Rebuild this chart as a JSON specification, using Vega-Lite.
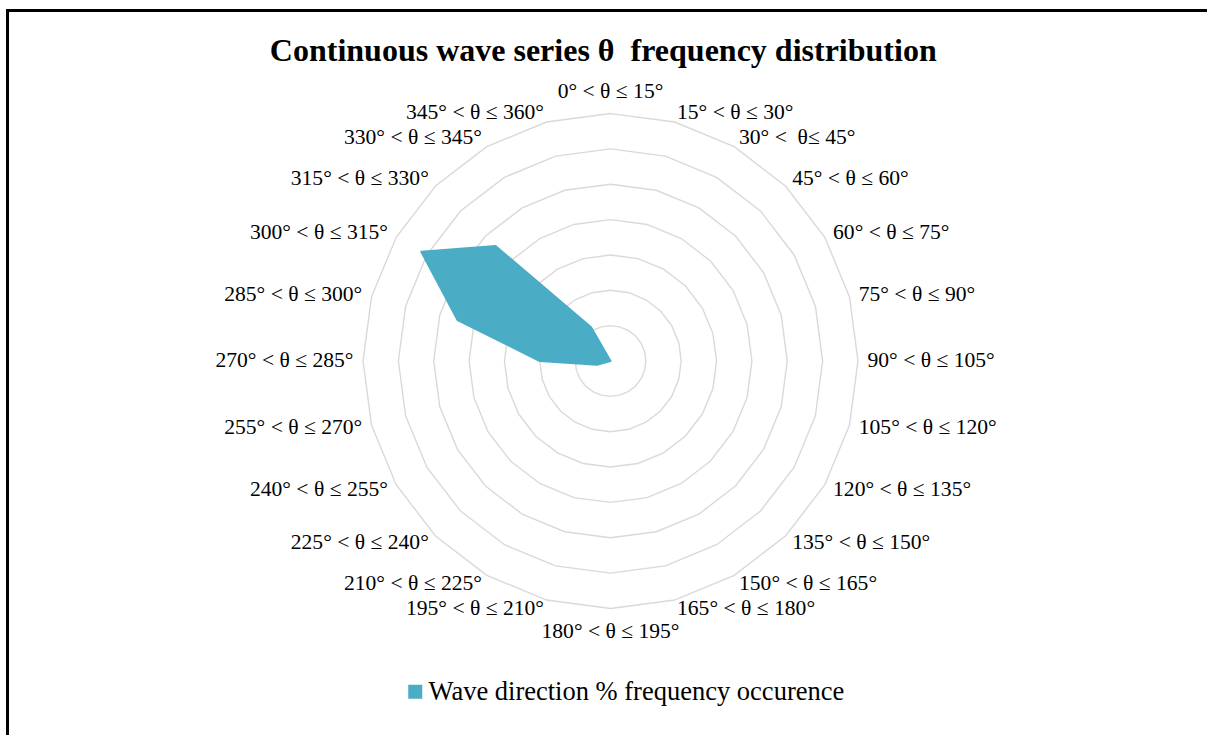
{
  "$schema": "https://vega.github.io/schema/vega-lite/v6.json",
  "width": 1199.5,
  "height": 724.5,
  "autosize": "none",
  "padding": {"left": 7.5, "top": 10.5, "right": 0, "bottom": 0},
  "background": "white",
  "config": {
    "view": {"stroke": null},
    "font": "Liberation Serif"
  },
  "title": {
    "text": "Continuous wave series θ \u00a0frequency distribution",
    "font": "Liberation Serif",
    "fontSize": 32,
    "fontWeight": "bold",
    "color": "black",
    "anchor": "middle",
    "dx": -4,
    "dy": 64
  },
  "datasets": {
    "directions": [
      {"bin": "0° < θ ≤ 15°", "angle": 0, "pct": 0},
      {"bin": "15° < θ ≤ 30°", "angle": 15, "pct": 0},
      {"bin": "30° < \u00a0θ≤ 45°", "angle": 30, "pct": 0},
      {"bin": "45° < θ ≤ 60°", "angle": 45, "pct": 0},
      {"bin": "60° < θ ≤ 75°", "angle": 60, "pct": 0},
      {"bin": "75° < θ ≤ 90°", "angle": 75, "pct": 0},
      {"bin": "90° < θ ≤ 105°", "angle": 90, "pct": 0},
      {"bin": "105° < θ ≤ 120°", "angle": 105, "pct": 0},
      {"bin": "120° < θ ≤ 135°", "angle": 120, "pct": 0},
      {"bin": "135° < θ ≤ 150°", "angle": 135, "pct": 0},
      {"bin": "150° < θ ≤ 165°", "angle": 150, "pct": 0},
      {"bin": "165° < θ ≤ 180°", "angle": 165, "pct": 0},
      {"bin": "180° < θ ≤ 195°", "angle": 180, "pct": 0},
      {"bin": "195° < θ ≤ 210°", "angle": 195, "pct": 0},
      {"bin": "210° < θ ≤ 225°", "angle": 210, "pct": 0},
      {"bin": "225° < θ ≤ 240°", "angle": 225, "pct": 0},
      {"bin": "240° < θ ≤ 255°", "angle": 240, "pct": 0},
      {"bin": "255° < θ ≤ 270°", "angle": 255, "pct": 2.0},
      {"bin": "270° < θ ≤ 285°", "angle": 270, "pct": 10.0},
      {"bin": "285° < θ ≤ 300°", "angle": 285, "pct": 22.4},
      {"bin": "300° < θ ≤ 315°", "angle": 300, "pct": 30.9},
      {"bin": "315° < θ ≤ 330°", "angle": 315, "pct": 23.0},
      {"bin": "330° < θ ≤ 345°", "angle": 330, "pct": 5.5},
      {"bin": "345° < θ ≤ 360°", "angle": 345, "pct": 0}
    ],
    "rings": [
      {"level": 5, "angle": [0, 15, 30, 45, 60, 75, 90, 105, 120, 135, 150, 165, 180, 195, 210, 225, 240, 255, 270, 285, 300, 315, 330, 345]},
      {"level": 10, "angle": [0, 15, 30, 45, 60, 75, 90, 105, 120, 135, 150, 165, 180, 195, 210, 225, 240, 255, 270, 285, 300, 315, 330, 345]},
      {"level": 15, "angle": [0, 15, 30, 45, 60, 75, 90, 105, 120, 135, 150, 165, 180, 195, 210, 225, 240, 255, 270, 285, 300, 315, 330, 345]},
      {"level": 20, "angle": [0, 15, 30, 45, 60, 75, 90, 105, 120, 135, 150, 165, 180, 195, 210, 225, 240, 255, 270, 285, 300, 315, 330, 345]},
      {"level": 25, "angle": [0, 15, 30, 45, 60, 75, 90, 105, 120, 135, 150, 165, 180, 195, 210, 225, 240, 255, 270, 285, 300, 315, 330, 345]},
      {"level": 30, "angle": [0, 15, 30, 45, 60, 75, 90, 105, 120, 135, 150, 165, 180, 195, 210, 225, 240, 255, 270, 285, 300, 315, 330, 345]},
      {"level": 35, "angle": [0, 15, 30, 45, 60, 75, 90, 105, 120, 135, 150, 165, 180, 195, 210, 225, 240, 255, 270, 285, 300, 315, 330, 345]}
    ],
    "frame": [{"edge": "top"}]
  },
  "layer": [
    {
      "data": {"name": "rings"},
      "transform": [
        {"flatten": ["angle"]},
        {"calculate": "datum.level * sin(datum.angle * PI / 180)", "as": "px"},
        {"calculate": "datum.level * cos(datum.angle * PI / 180)", "as": "py"}
      ],
      "mark": {"type": "line", "interpolate": "linear-closed", "stroke": "#d9d9d9", "strokeWidth": 1.4},
      "encoding": {
        "x": {"field": "px", "type": "quantitative", "scale": {"domain": [-85.29, 84.37], "nice": false, "zero": false}, "axis": null},
        "y": {"field": "py", "type": "quantitative", "scale": {"domain": [-52.9, 49.58], "nice": false, "zero": false}, "axis": null},
        "detail": {"field": "level", "type": "nominal"},
        "order": {"field": "angle", "type": "quantitative"}
      }
    },
    {
      "data": {"name": "directions"},
      "transform": [
        {"calculate": "datum.pct * sin(datum.angle * PI / 180)", "as": "px"},
        {"calculate": "datum.pct * cos(datum.angle * PI / 180)", "as": "py"}
      ],
      "mark": {"type": "line", "interpolate": "linear-closed", "fill": "#4bacc6", "fillOpacity": 1, "strokeWidth": 2, "strokeJoin": "round"},
      "encoding": {
        "x": {"field": "px", "type": "quantitative"},
        "y": {"field": "py", "type": "quantitative"},
        "order": {"field": "angle", "type": "quantitative"},
        "color": {
          "datum": "Wave direction % frequency occurence",
          "type": "nominal",
          "scale": {"range": ["#4bacc6"]},
          "legend": {
            "title": null,
            "orient": "none",
            "legendX": 394.5,
            "legendY": 668,
            "padding": 0,
            "symbolType": "square",
            "symbolSize": 196,
            "symbolStrokeWidth": 0,
            "symbolOpacity": 1,
            "labelFont": "Liberation Serif",
            "labelFontSize": 26.5,
            "labelColor": "black",
            "labelOffset": 0,
            "labelLimit": 700
          }
        }
      }
    },
    {
      "data": {"name": "directions"},
      "transform": [
        {"filter": "datum.angle > 0 && datum.angle < 180"},
        {"calculate": "36.35 * sin(datum.angle * PI / 180)", "as": "px"},
        {"calculate": "36.35 * cos(datum.angle * PI / 180)", "as": "py"}
      ],
      "mark": {"type": "text", "align": "left", "baseline": "middle", "font": "Liberation Serif", "fontSize": 21.6, "color": "black"},
      "encoding": {
        "x": {"field": "px", "type": "quantitative"},
        "y": {"field": "py", "type": "quantitative"},
        "text": {"field": "bin"}
      }
    },
    {
      "data": {"name": "directions"},
      "transform": [
        {"filter": "datum.angle > 180"},
        {"calculate": "36.35 * sin(datum.angle * PI / 180)", "as": "px"},
        {"calculate": "36.35 * cos(datum.angle * PI / 180)", "as": "py"}
      ],
      "mark": {"type": "text", "align": "right", "baseline": "middle", "font": "Liberation Serif", "fontSize": 21.6, "color": "black"},
      "encoding": {
        "x": {"field": "px", "type": "quantitative"},
        "y": {"field": "py", "type": "quantitative"},
        "text": {"field": "bin"}
      }
    },
    {
      "data": {"name": "directions"},
      "transform": [
        {"filter": "datum.angle == 0 || datum.angle == 180"},
        {"calculate": "0", "as": "px"},
        {"calculate": "datum.angle == 0 ? 38.05 : -38.33", "as": "py"}
      ],
      "mark": {"type": "text", "align": "center", "baseline": "middle", "font": "Liberation Serif", "fontSize": 21.6, "color": "black"},
      "encoding": {
        "x": {"field": "px", "type": "quantitative"},
        "y": {"field": "py", "type": "quantitative"},
        "text": {"field": "bin"}
      }
    },
    {
      "data": {"name": "frame"},
      "mark": {"type": "rule", "stroke": "black", "strokeWidth": 3, "strokeCap": "square"},
      "encoding": {"y": {"datum": 49.58, "type": "quantitative"}}
    },
    {
      "data": {"name": "frame"},
      "mark": {"type": "rule", "stroke": "black", "strokeWidth": 3, "strokeCap": "square"},
      "encoding": {"x": {"datum": -85.29, "type": "quantitative"}}
    }
  ]
}
